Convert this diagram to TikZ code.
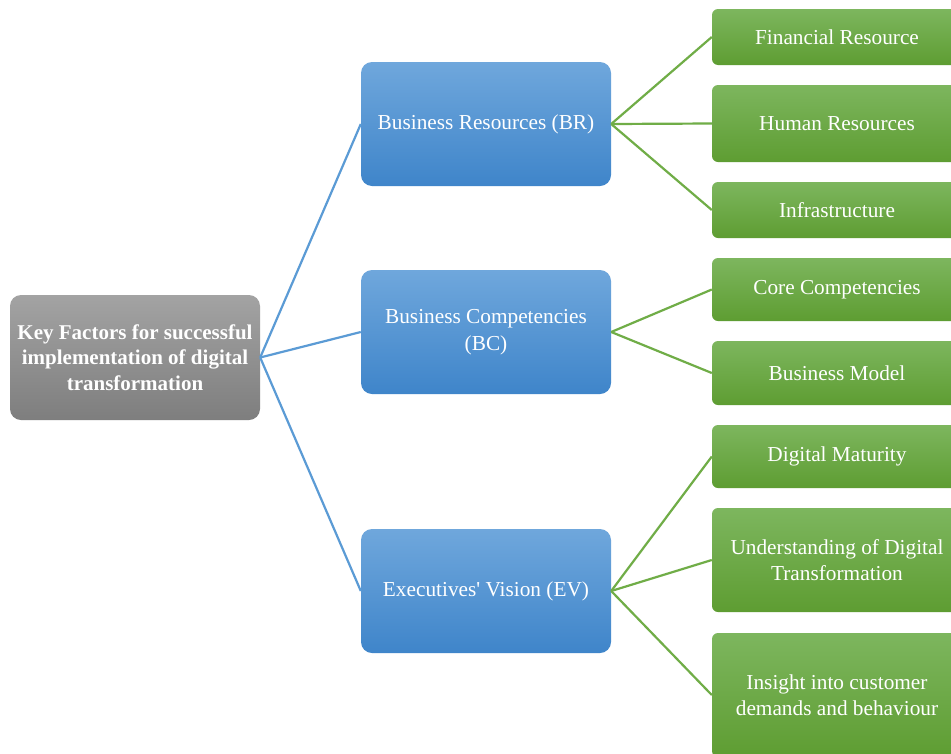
\documentclass[tikz,border=0pt]{standalone}
\usepackage{fontspec}
\setmainfont{Liberation Serif}
\definecolor{bluetop}{HTML}{6FA7DC}
\definecolor{bluebot}{HTML}{3F85CA}
\definecolor{greentop}{HTML}{7DB65E}
\definecolor{greenbot}{HTML}{5E9D32}
\definecolor{graytop}{HTML}{A3A3A3}
\definecolor{graybot}{HTML}{7E7E7E}
\definecolor{blueline}{HTML}{5B9BD5}
\definecolor{greenline}{HTML}{70AD47}
\tikzset{
  basebox/.style={text=white, align=center, inner sep=0pt, minimum width=250pt,
    font=\fontsize{21.3}{25}\selectfont},
  rootbox/.style={basebox, rounded corners=11pt, top color=graytop, bottom color=graybot,
    minimum height=125pt, font=\fontsize{21}{25.5}\selectfont\bfseries},
  bluebox/.style={basebox, rounded corners=11pt, top color=bluetop, bottom color=bluebot,
    minimum height=124pt, font=\fontsize{21.3}{27}\selectfont},
  greenbox/.style={basebox, rounded corners=6pt, top color=greentop, bottom color=greenbot,
    font=\fontsize{21.3}{26}\selectfont},
  blink/.style={draw=blueline, line width=2.2pt},
  glink/.style={draw=greenline, line width=2.2pt}
}
\begin{document}
\begin{tikzpicture}[x=1pt,y=-1pt]
\useasboundingbox (0,0) rectangle (951,753);
\fill[white] (0,0) rectangle (951,753);
\clip (0,0) rectangle (951,753);
% root
\node[rootbox] (root) at (135,357.5) {Key Factors for successful\\implementation of digital\\transformation};
% blue
\node[bluebox] (br) at (486,124) {Business Resources (BR)};
\node[bluebox] (bc) at (486,332) {Business Competencies\\(BC)};
\node[bluebox] (ev) at (486,591) {Executives\textquotesingle{} Vision (EV)};
% green
\node[greenbox, minimum height=56pt] (fin) at (837,37) {Financial Resource};
\node[greenbox, minimum height=77pt] (hum) at (837,123.5) {Human Resources};
\node[greenbox, minimum height=56pt] (inf) at (837,210) {Infrastructure};
\node[greenbox, minimum height=63pt] (core) at (837,289.5) {Core Competencies};
\node[greenbox, minimum height=64pt] (bm) at (837,373) {Business Model};
\node[greenbox, minimum height=63pt] (dm) at (837,456.5) {Digital Maturity};
\node[greenbox, minimum height=104pt] (und) at (837,560) {Understanding of Digital\\Transformation};
\node[greenbox, minimum height=124pt] (ins) at (837,695) {Insight into customer\\demands and behaviour};
% connectors
\draw[blink] (root.east) -- (br.west);
\draw[blink] (root.east) -- (bc.west);
\draw[blink] (root.east) -- (ev.west);
\draw[glink] (br.east) -- (fin.west);
\draw[glink] (br.east) -- (hum.west);
\draw[glink] (br.east) -- (inf.west);
\draw[glink] (bc.east) -- (core.west);
\draw[glink] (bc.east) -- (bm.west);
\draw[glink] (ev.east) -- (dm.west);
\draw[glink] (ev.east) -- (und.west);
\draw[glink] (ev.east) -- (ins.west);
\end{tikzpicture}
\end{document}
